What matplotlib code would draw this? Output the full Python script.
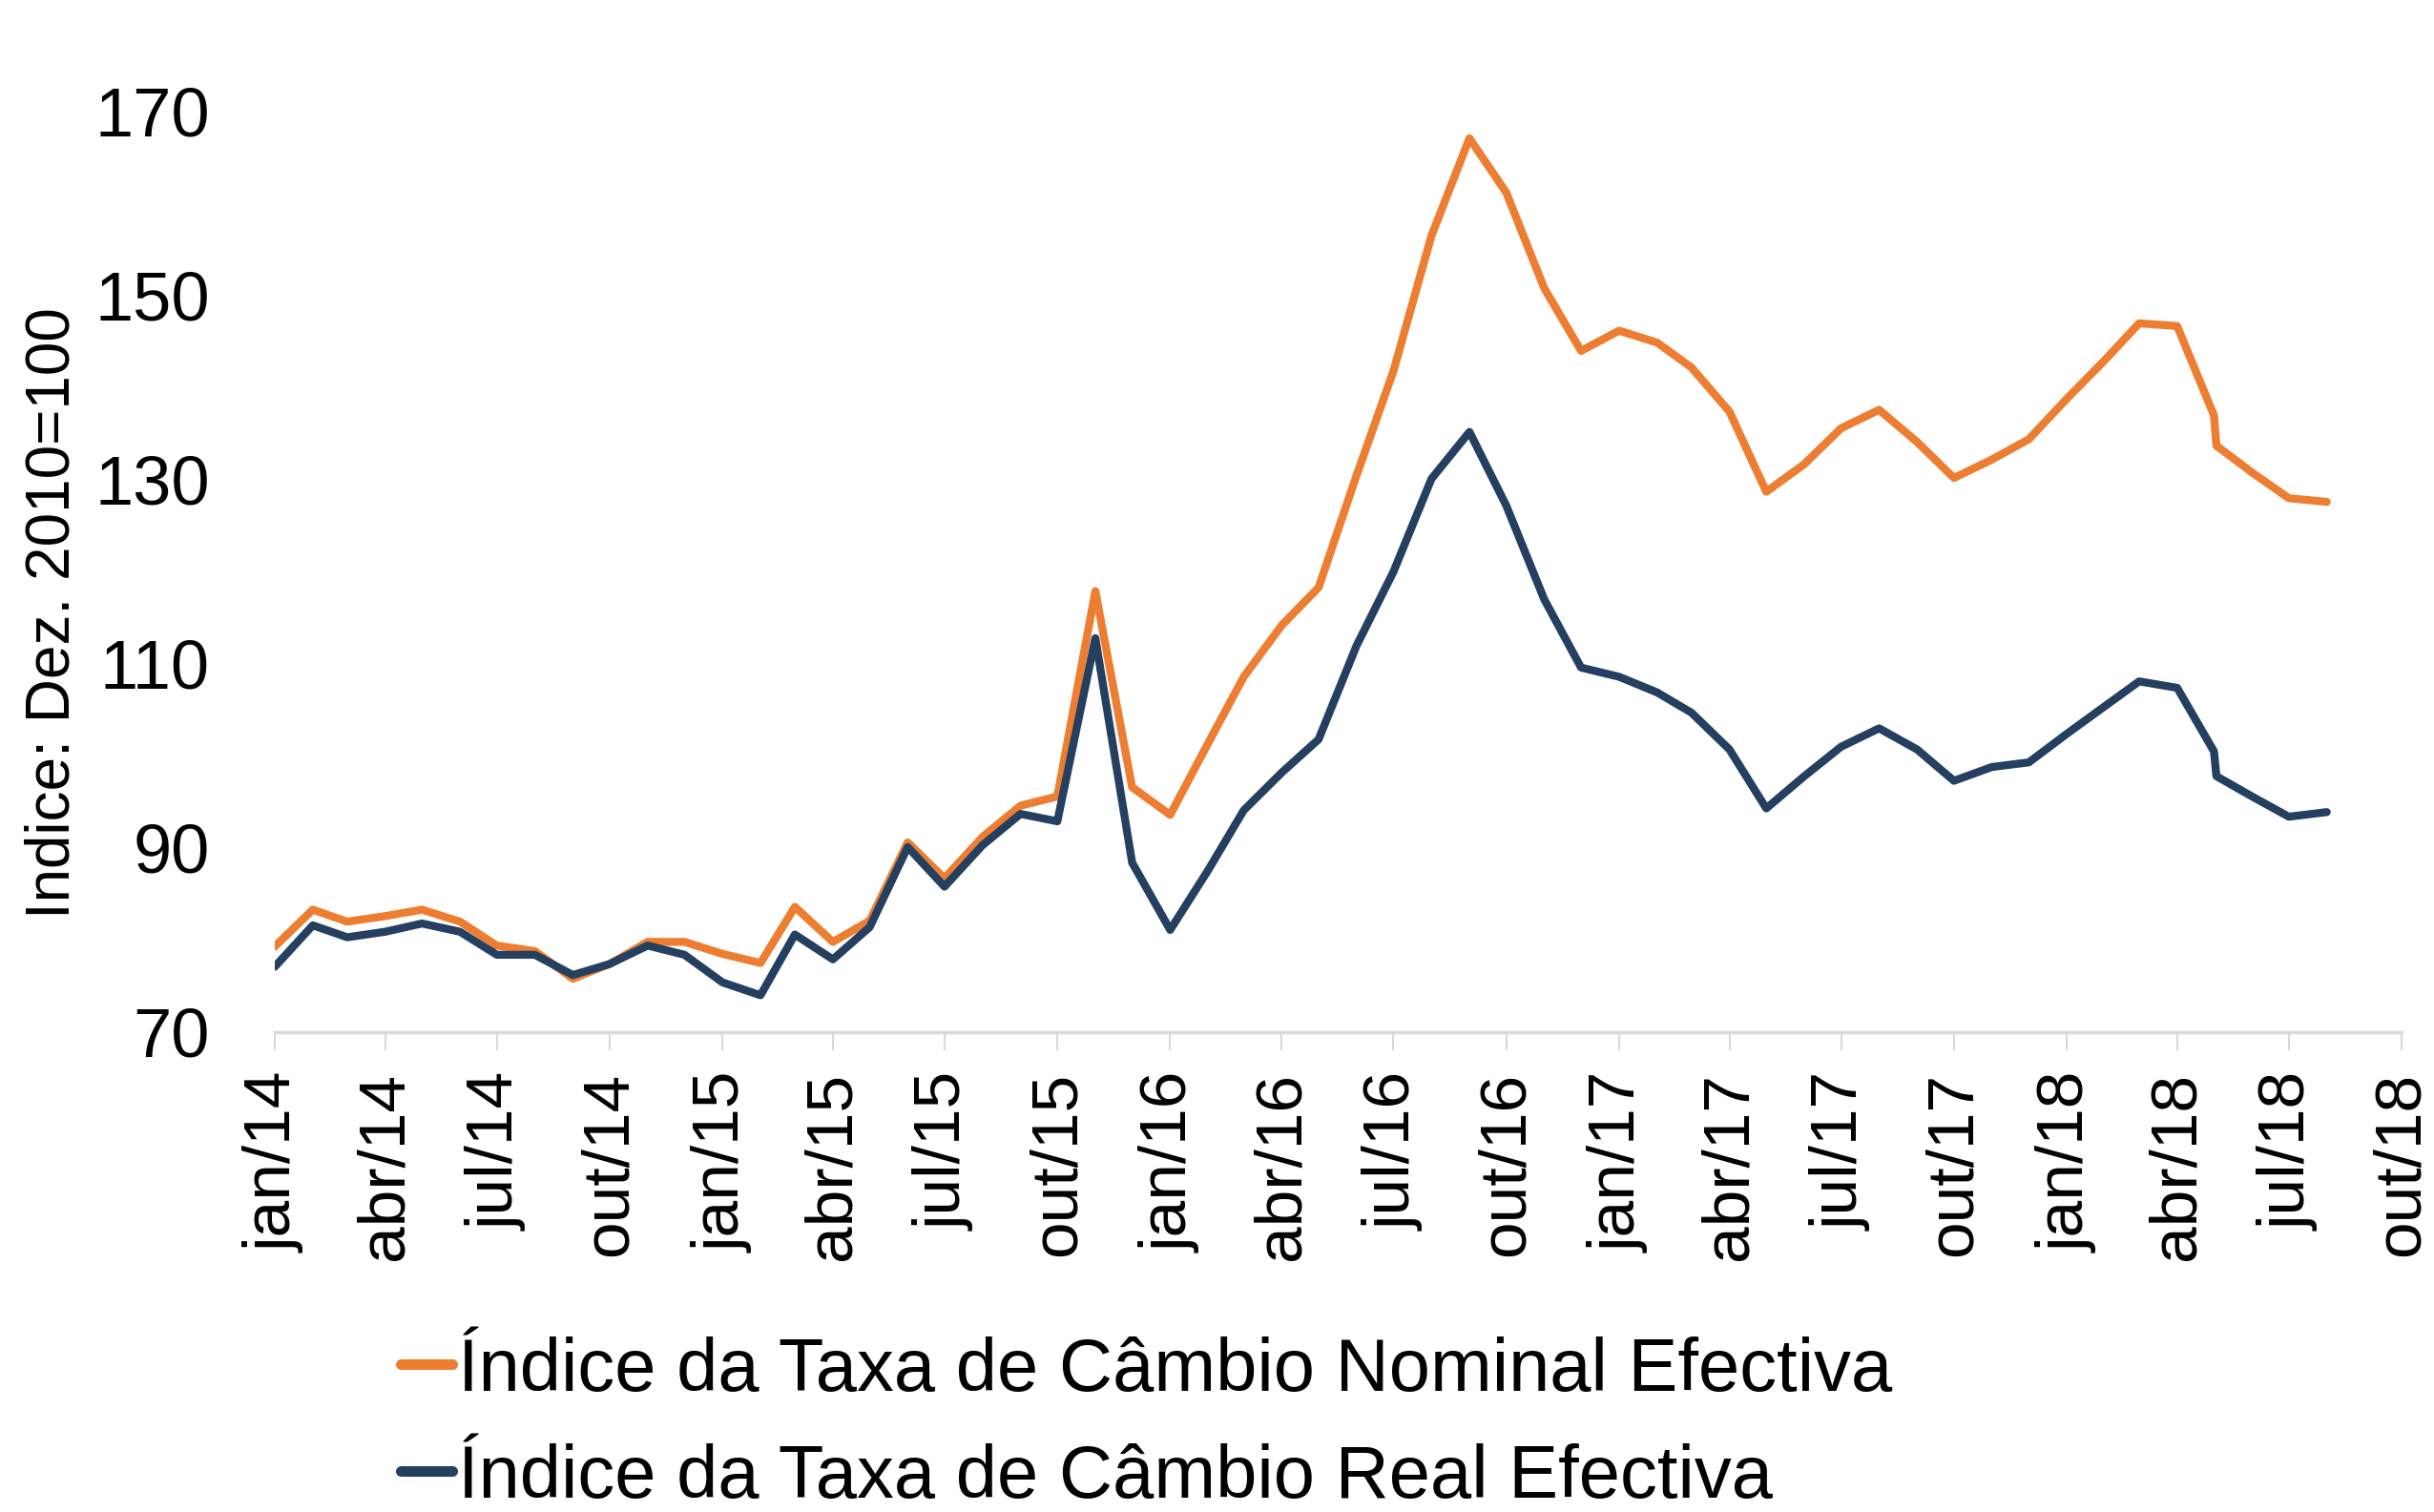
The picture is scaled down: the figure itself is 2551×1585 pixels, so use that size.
import matplotlib
matplotlib.use("Agg")
import matplotlib.pyplot as plt
import matplotlib.dates as mdates
from matplotlib.ticker import FuncFormatter, FixedLocator
import pandas as pd

plt.rcParams['font.family'] = ['Liberation Sans Narrow', 'Liberation Sans', 'DejaVu Sans']

# observation dates (monthly, with two close readings in May 2018)
dates = pd.to_datetime([
    "2014-01-01", "2014-02-01", "2014-03-01", "2014-04-01", "2014-05-01", "2014-06-01",
    "2014-07-01", "2014-08-01", "2014-09-01", "2014-10-01", "2014-11-01", "2014-12-01",
    "2015-01-01", "2015-02-01", "2015-03-01", "2015-04-01", "2015-05-01", "2015-06-01",
    "2015-07-01", "2015-08-01", "2015-09-01", "2015-10-01", "2015-11-01", "2015-12-01",
    "2016-01-01", "2016-02-01", "2016-03-01", "2016-04-01", "2016-05-01", "2016-06-01",
    "2016-07-01", "2016-08-01", "2016-09-01", "2016-10-01", "2016-11-01", "2016-12-01",
    "2017-01-01", "2017-02-01", "2017-03-01", "2017-04-01", "2017-05-01", "2017-06-01",
    "2017-07-01", "2017-08-01", "2017-09-01", "2017-10-01", "2017-11-01", "2017-12-01",
    "2018-01-01", "2018-02-01", "2018-03-01", "2018-04-01", "2018-05-01", "2018-05-03",
    "2018-06-01", "2018-07-01", "2018-08-01",
])

nominal = [
    79.3, 83.3, 82.0, 82.6, 83.3, 82.0, 79.4, 78.8, 75.8, 77.4, 79.8, 79.8,
    78.5, 77.5, 83.6, 79.8, 82.1, 90.6, 86.7, 91.2, 94.6, 95.6, 117.9, 96.6,
    93.6, 101.4, 108.6, 114.2, 118.3, 130.5, 141.8, 156.5, 167.1, 161.2, 150.8, 144.0,
    146.2, 144.9, 142.2, 137.4, 128.7, 131.7, 135.6, 137.6, 134.1, 130.2, 132.2, 134.4,
    138.8, 143.0, 147.0, 146.7, 137.0, 133.7, 130.8, 128.0, 127.6,
]

real = [
    77.1, 81.6, 80.3, 80.9, 81.8, 80.9, 78.4, 78.4, 76.2, 77.4, 79.4, 78.4,
    75.4, 74.0, 80.6, 77.9, 81.4, 90.1, 85.8, 90.3, 93.7, 92.9, 112.8, 88.4,
    81.1, 87.6, 94.1, 98.2, 101.8, 112.0, 120.0, 130.1, 135.2, 127.2, 117.0, 109.6,
    108.6, 106.9, 104.7, 100.7, 94.3, 97.8, 101.0, 103.0, 100.7, 97.3, 98.8, 99.3,
    102.4, 105.4, 108.1, 107.4, 100.5, 97.8, 95.6, 93.4, 93.9,
]

labels = ["Índice da Taxa de Câmbio Nominal Efectiva",
          "Índice da Taxa de Câmbio Real Efectiva"]
month_pt = ["jan", "fev", "mar", "abr", "mai", "jun",
            "jul", "ago", "set", "out", "nov", "dez"]
y_ticks = [70, 90, 110, 130, 150, 170]

ORANGE = "#ED7D31"
NAVY = "#243F60"
GRID = "#D9D9D9"

fig = plt.figure(figsize=(25.51, 15.85), dpi=100)
ax = fig.add_axes([0.1129, 0.3174, 0.8738, 0.6088])

style = dict(lw=6, solid_capstyle="round", solid_joinstyle="round")
ax.plot(dates, nominal, color=ORANGE, label=labels[0], **style)
ax.plot(dates, real, color=NAVY, label=labels[1], **style)

ax.set_ylim(70, 170)
ax.set_yticks(y_ticks)
ax.set_xlim(pd.Timestamp("2014-01-01"), pd.Timestamp("2018-10-01"))

quarter_ticks = pd.date_range("2014-01-01", "2018-10-01", freq="3MS")
ax.xaxis.set_major_locator(FixedLocator(mdates.date2num(quarter_ticks)))


def fmt_month(x, pos):
    d = mdates.num2date(x)
    return f"{month_pt[d.month - 1]}/{d.year % 100:02d}"


ax.xaxis.set_major_formatter(FuncFormatter(fmt_month))

for side in ("top", "right", "left"):
    ax.spines[side].set_visible(False)
ax.spines["bottom"].set_color(GRID)
ax.spines["bottom"].set_linewidth(2.5)

ax.tick_params(axis="y", length=0, pad=49, labelsize=52)
ax.tick_params(axis="x", length=14, width=1.5, color=GRID, pad=16,
               labelsize=50, labelrotation=90)

ax.set_ylabel("Indice: Dez. 2010=100", fontsize=46)
ax.yaxis.set_label_coords(-0.091, 0.455)

fig.legend(loc="center left", bbox_to_anchor=(0.1646, 0.058), frameon=False,
           fontsize=56, handlelength=0.7, handletextpad=0.07,
           labelspacing=0.5, borderpad=0, borderaxespad=0)
for line in fig.legends[0].get_lines():
    line.set_linewidth(8)
    line.set_solid_capstyle("round")

fig.savefig("out.png", dpi=100)
